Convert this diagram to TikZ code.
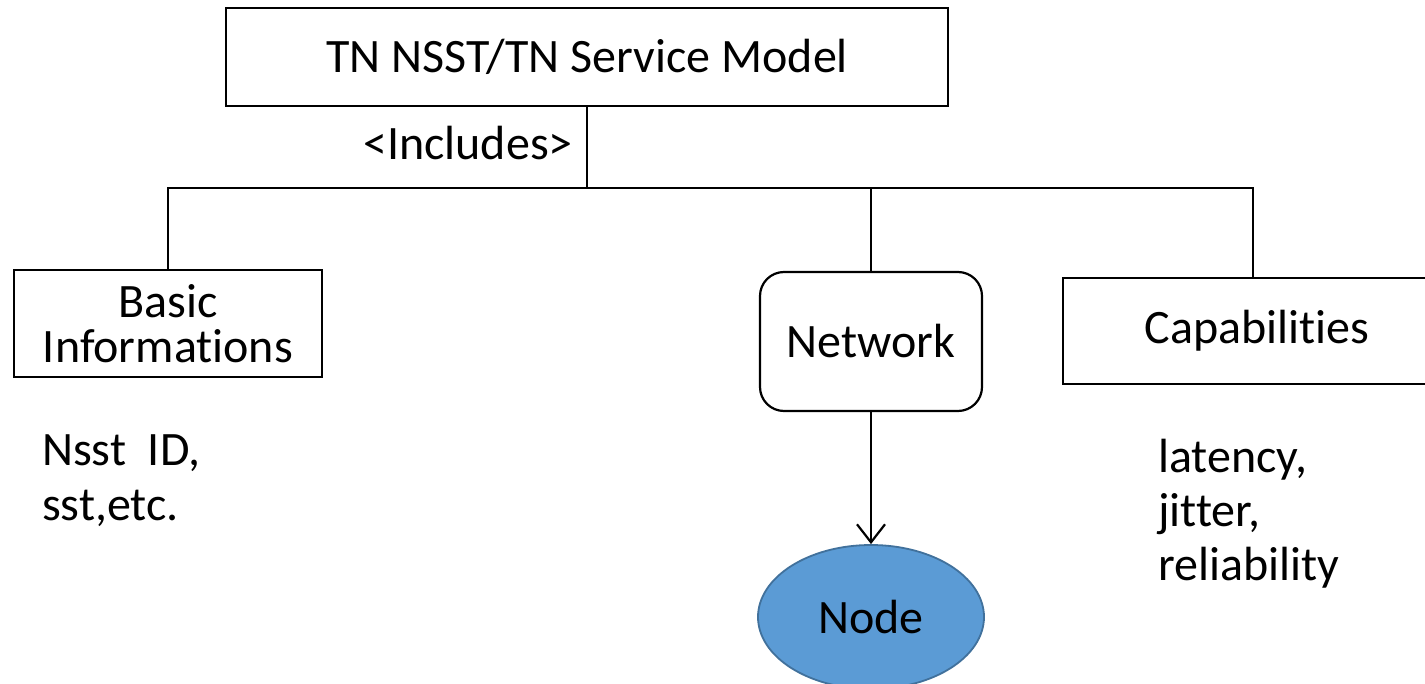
\documentclass[tikz,border=0pt]{standalone}
\usepackage{fontspec}
\setmainfont[Ligatures=NoCommon]{Carlito}
\usetikzlibrary{shapes.geometric,arrows.meta}
\definecolor{nodefill}{HTML}{5B9BD5}
\definecolor{nodeline}{HTML}{41719C}
\begin{document}
\begin{tikzpicture}[x=1pt,y=-1pt,
  every node/.style={font=\fontsize{48}{45}\selectfont, inner sep=0pt},
  box/.style={draw=black, line width=2.2pt, align=center},
  link/.style={draw=black, line width=1.3pt},
  plain/.style={anchor=base west}]
\useasboundingbox (0,0) rectangle (1425,684);

% model box and its children
\node[box, minimum width=722pt, minimum height=98pt] (model) at (587,57) {TN NSST/TN Service Model};
\node[box, minimum width=308pt, minimum height=107pt] (basic) at (168,323.5) {Basic\\Informations};
\node[box, rounded corners=24pt, minimum width=222pt, minimum height=139pt] (net) at (871,341.5) {Network};
\node[box, minimum width=388pt, minimum height=106pt] (cap) at (1257,331) {Capabilities};
\node[ellipse, draw=nodeline, line width=1.8pt, fill=nodefill,
      minimum width=226pt, minimum height=144pt] (nd) at (871,617) {Node};

% relation label
\node[anchor=base east] (inc) at (573,160) {<Includes>};

% detail texts
\node[plain] (nsst) at (42,466) {Nsst\ \ ID,};
\node[plain] (sst) at (42,520) {sst,etc.};
\node[plain] (lat) at (1158,472) {latency,};
\node[plain] (jit) at (1158,526) {jitter,};
\node[plain] (rel) at (1158,580) {reliability};

% tree connectors
\coordinate (j) at (587,188);
\draw[link] (model.south) -- (j);
\draw[link] (j) -| (basic.north);
\draw[link] (j) -| (net.north);
\draw[link] (j) -| ([xshift=-4pt]cap.north);

% network to node
\draw[draw=black, line width=2.2pt, -{Straight Barb[length=18pt,width=28pt,line width=2.2pt]}] (net.south) -- (nd.north);
\end{tikzpicture}
\end{document}
